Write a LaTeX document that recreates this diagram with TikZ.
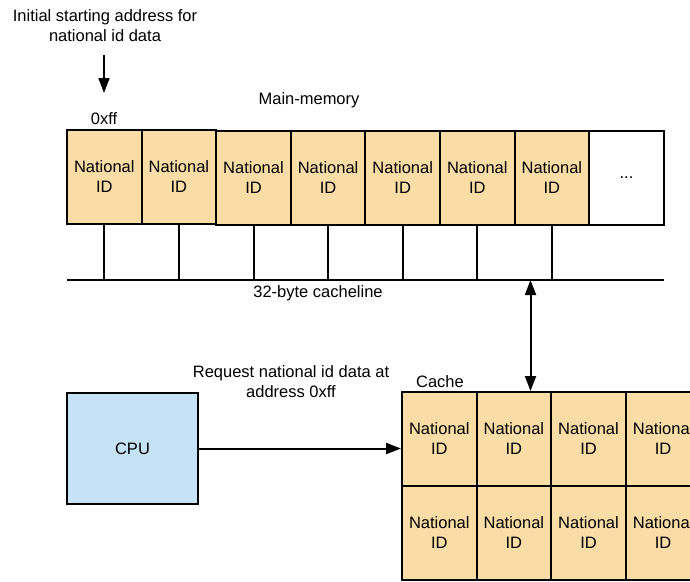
\documentclass[tikz,border=0pt]{standalone}
\usepackage{fontspec}
\setmainfont{Liberation Sans}
\usetikzlibrary{arrows.meta}
\definecolor{idfill}{RGB}{250,220,166}
\definecolor{cpufill}{RGB}{197,226,246}
\tikzset{
  every node/.style={font=\fontsize{16.5}{20}\selectfont},
  cell/.style={draw=black, line width=2pt, fill=idfill, minimum width=74.6pt,
    minimum height=94pt, inner sep=0pt, align=center},
  blank/.style={cell, fill=white},
  cpubox/.style={draw=black, line width=2pt, fill=cpufill, minimum width=131pt,
    minimum height=111pt, inner sep=0pt},
  label/.style={inner sep=0pt, align=center},
  wire/.style={line width=2pt},
  arr/.style={line width=2pt, -{Triangle[width=11pt,length=15pt]}},
  dblarr/.style={line width=2pt, {Triangle[width=11pt,length=15pt]}-{Triangle[width=11pt,length=15pt]}},
}
\begin{document}
\begin{tikzpicture}[x=1pt, y=-1pt]
  \useasboundingbox (0,0) rectangle (690,581);
  \clip (0,0) rectangle (690,581);

  % start address annotation
  \node[label] (start) at (105,26) {Initial starting address for\\national id data};
  \coordinate (arrtop) at (104,55);
  \coordinate (arrtip) at (104,93);
  \draw[arr] (arrtop) -- (arrtip);
  \node[label] (addr) at (104,119) {0xff};
  \node[label] (mainmem) at (309,100) {Main-memory};

  % main memory row
  \node[cell] (m1) at (104.3,176.5) {National\\ID};
  \node[cell] (m2) at (178.9,176.5) {National\\ID};
  \node[cell] (m3) at (253.5,177.5) {National\\ID};
  \node[cell] (m4) at (328.1,177.5) {National\\ID};
  \node[cell] (m5) at (402.7,177.5) {National\\ID};
  \node[cell] (m6) at (477.3,177.5) {National\\ID};
  \node[cell] (m7) at (551.9,177.5) {National\\ID};
  \node[blank] (m8) at (626.5,177.5) {...};

  % cacheline bus
  \coordinate (busL) at (67,280);
  \coordinate (busR) at (664,280);
  \draw[wire] (busL) -- (busR);
  \foreach \i in {1,...,7} {
    \draw[wire] (m\i.south) -- (m\i.south |- busL);
  }
  \node[label] (linelbl) at (318,293) {32-byte cacheline};

  % cache block
  \node[label] (cachelbl) at (440,382) {Cache};
  \node[cell] (c11) at (439.3,439) {National\\ID};
  \node[cell] (c12) at (513.9,439) {National\\ID};
  \node[cell] (c13) at (588.5,439) {National\\ID};
  \node[cell] (c14) at (663.1,439) {National\\ID};
  \node[cell] (c21) at (439.3,533) {National\\ID};
  \node[cell] (c22) at (513.9,533) {National\\ID};
  \node[cell] (c23) at (588.5,533) {National\\ID};
  \node[cell] (c24) at (663.1,533) {National\\ID};

  % transfer between memory and cache
  \coordinate (busA) at (530.5,280);
  \draw[dblarr] (busA) -- (busA |- c12.north);

  % CPU and request
  \node[cpubox] (cpu) at (132.5,448.5) {CPU};
  \node[label] (req) at (291,382) {Request national id data at\\address 0xff};
  \draw[arr] (cpu.east) -- (cpu.east -| c11.west);
\end{tikzpicture}
\end{document}
